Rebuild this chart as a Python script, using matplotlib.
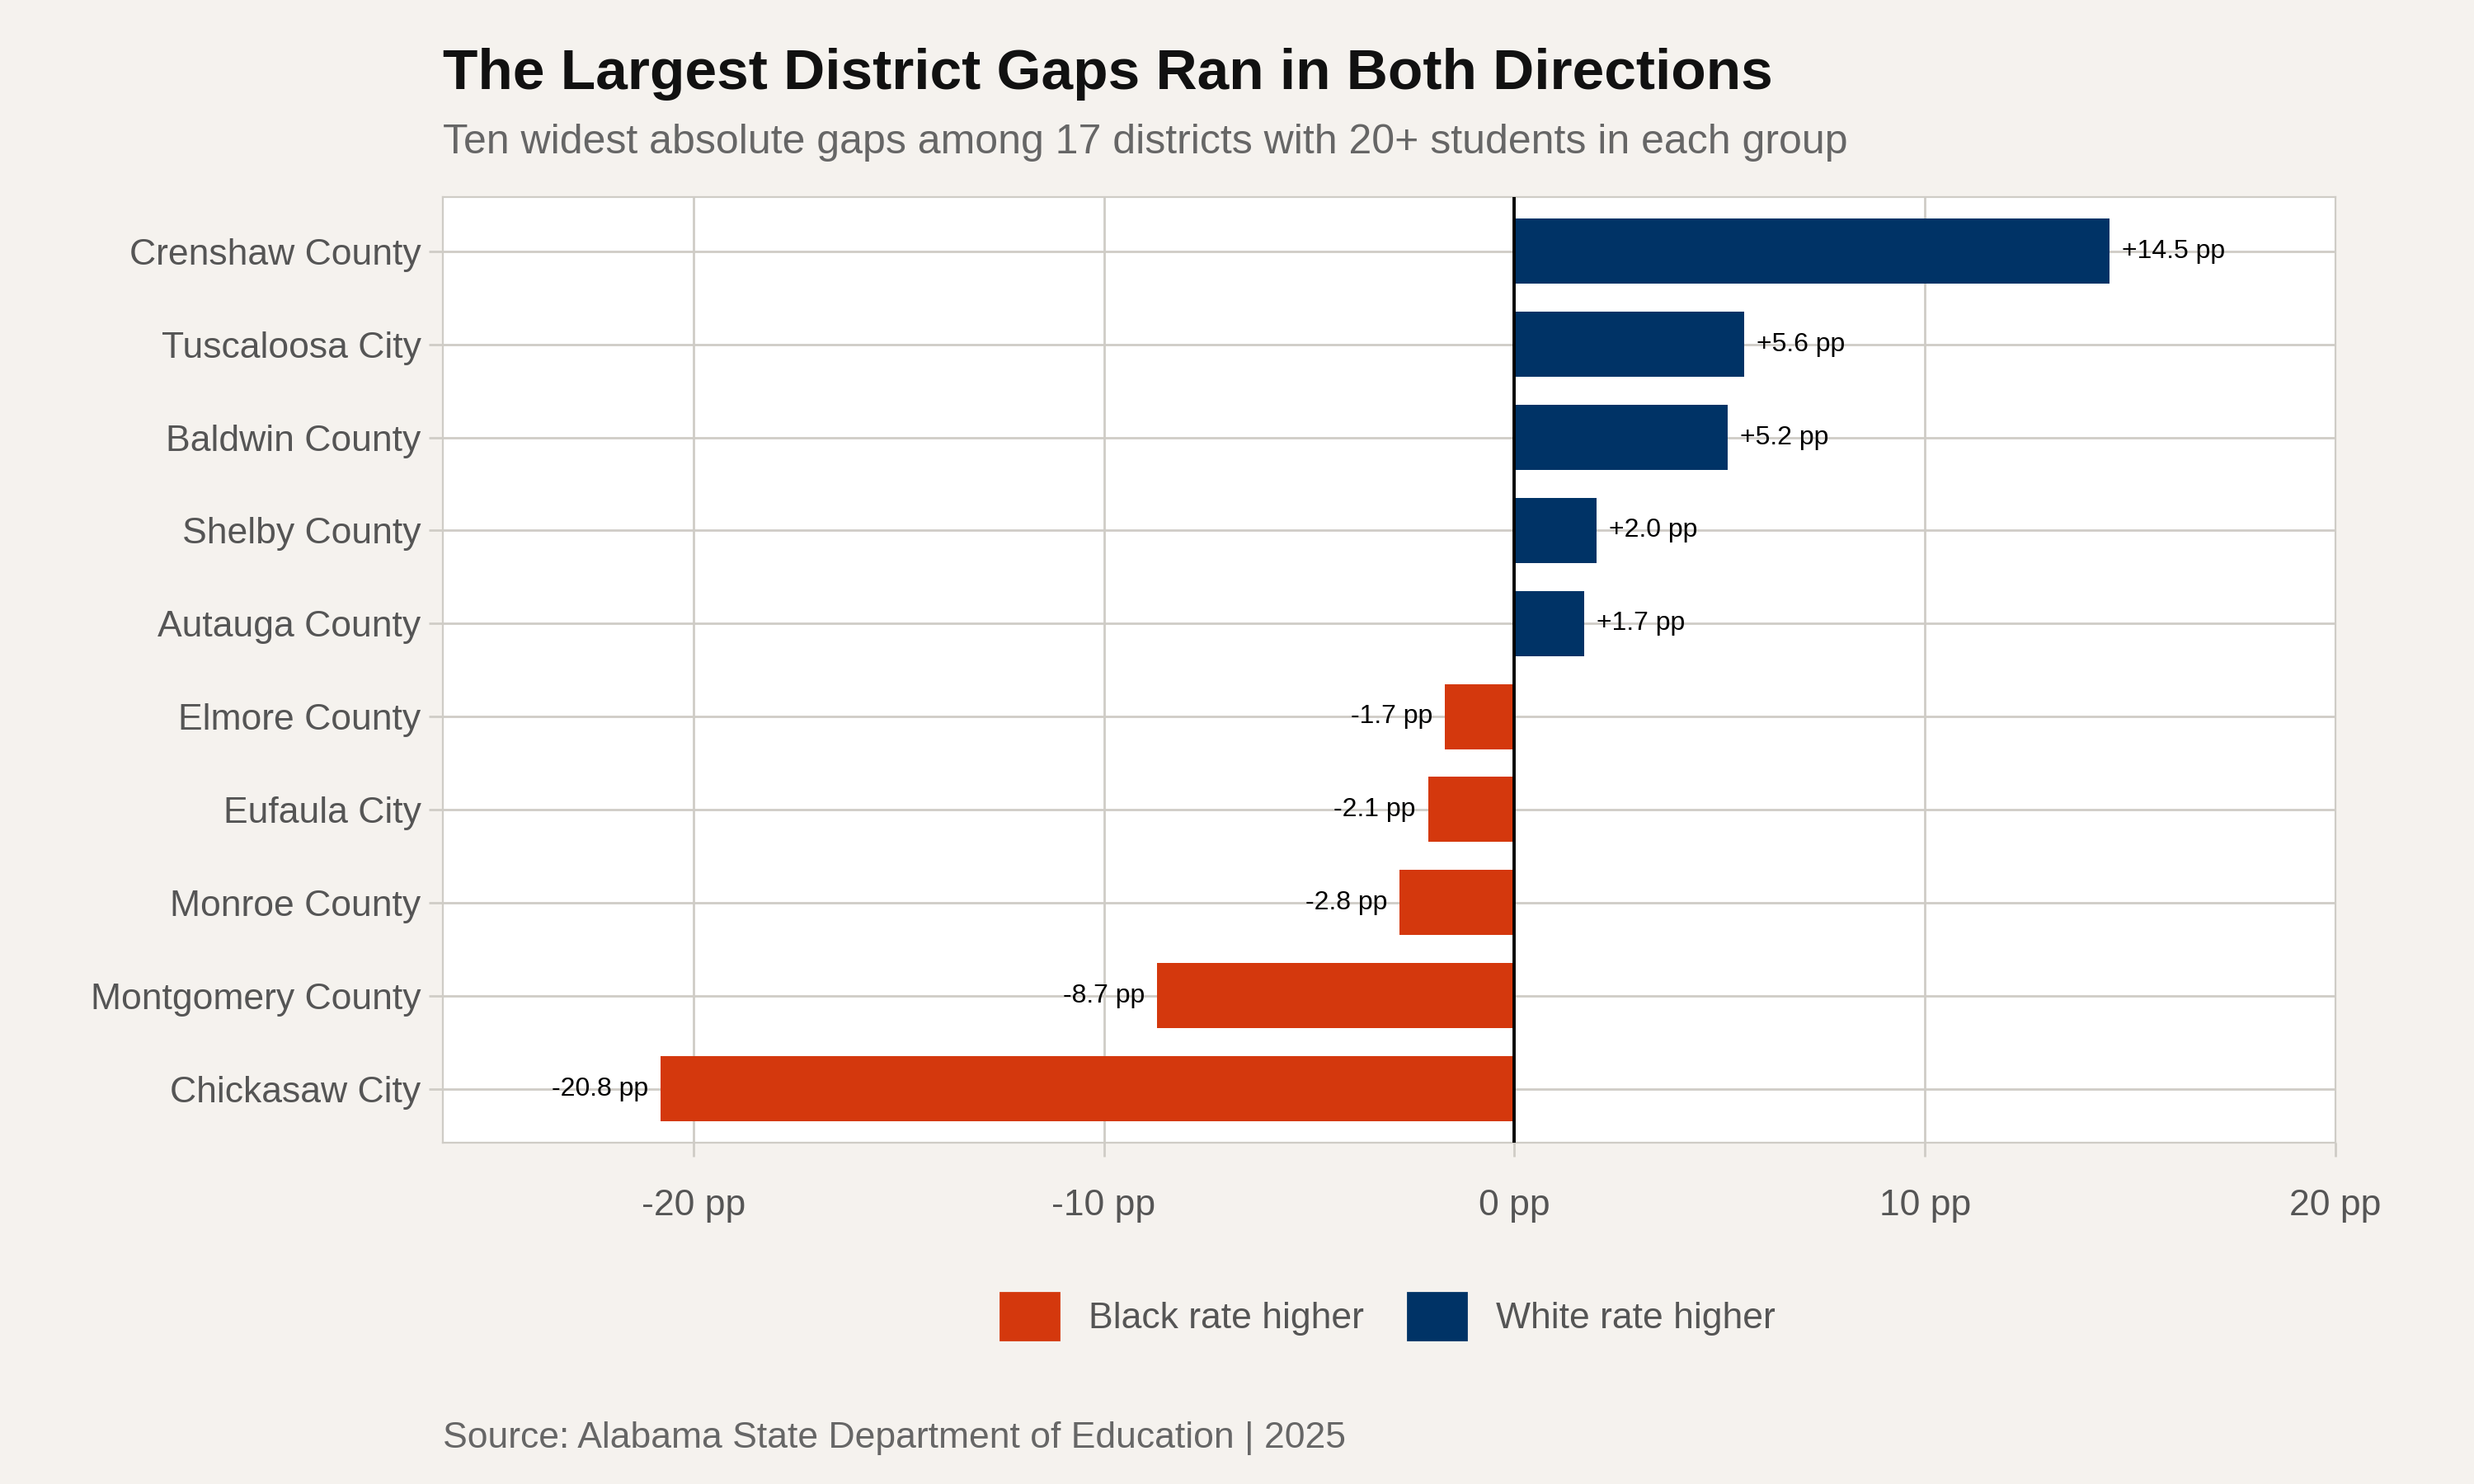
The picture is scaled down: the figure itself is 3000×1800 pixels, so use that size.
import matplotlib
matplotlib.use("Agg")
import matplotlib.pyplot as plt
from matplotlib.patches import Patch

plt.rcParams['font.family'] = ['Liberation Sans', 'DejaVu Sans']

districts = ["Crenshaw County", "Tuscaloosa City", "Baldwin County", "Shelby County",
             "Autauga County", "Elmore County", "Eufaula City", "Monroe County",
             "Montgomery County", "Chickasaw City"]
gaps = [14.5, 5.6, 5.2, 2.0, 1.7, -1.7, -2.1, -2.8, -8.7, -20.8]
xticks = [-20, -10, 0, 10, 20]

BG = "#F5F2EE"
ORANGE = "#D4380D"
NAVY = "#003366"
GRID = "#CFCCC6"

fig = plt.figure(figsize=(15, 9), dpi=200, facecolor=BG)
ax = fig.add_axes([0.179, 0.230, 0.765, 0.637])
ax.set_facecolor("white")

y = list(range(len(districts)))[::-1]
colors = [NAVY if g > 0 else ORANGE for g in gaps]
ax.barh(y, gaps, height=0.7, color=colors, zorder=3)
for yi, g in zip(y, gaps):
    lab = f"{g:+.1f} pp"
    if g > 0:
        ax.text(g + 0.3, yi, lab, va="center", ha="left", fontsize=11.5, color="black", zorder=4)
    else:
        ax.text(g - 0.3, yi, lab, va="center", ha="right", fontsize=11.5, color="black", zorder=4)

ax.axvline(0, color="black", lw=1.4, zorder=4)
ax.set_xlim(-26.1, 20)
ax.set_ylim(-0.58, 9.58)
ax.set_yticks(y)
ax.set_yticklabels(districts, fontsize=16, color="#555555")
ax.set_xticks(xticks)
ax.set_xticklabels([f"{t} pp" for t in xticks], fontsize=16, color="#555555")
ax.grid(True, color=GRID, lw=1, zorder=0)
ax.tick_params(axis="both", color=GRID, length=6, width=1)
ax.tick_params(axis="x", pad=14)
for s in ax.spines.values():
    s.set_color(GRID)

fig.text(0.179, 0.95, "The Largest District Gaps Ran in Both Directions",
         fontsize=25, fontweight="bold", color="#111111", va="center")
fig.text(0.179, 0.904, "Ten widest absolute gaps among 17 districts with 20+ students in each group",
         fontsize=18, color="#666666", va="center")
fig.text(0.179, 0.031, "Source: Alabama State Department of Education | 2025",
         fontsize=16, color="#666666", va="center")

handles = [Patch(color=ORANGE, label="Black rate higher"), Patch(color=NAVY, label="White rate higher")]
fig.legend(handles=handles, loc="center", bbox_to_anchor=(0.561, 0.113), ncol=2,
           frameon=False, fontsize=16, labelcolor="#555555", handlelength=1.6,
           handleheight=1.6, columnspacing=1.2)

fig.savefig("out.png", dpi=200, facecolor=BG)
